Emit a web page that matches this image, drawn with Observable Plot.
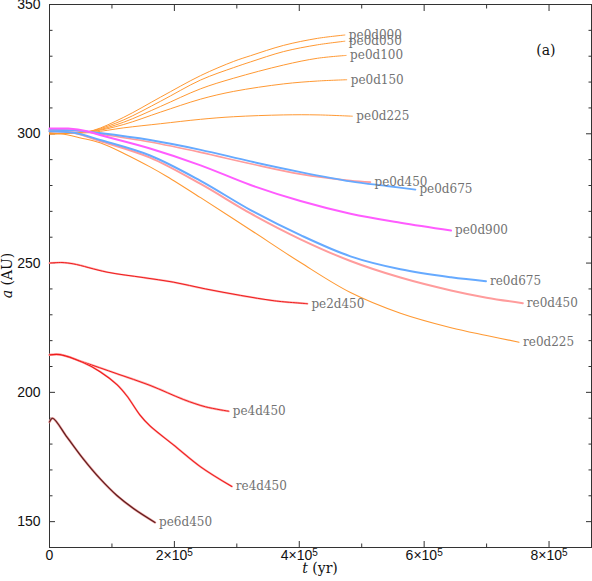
<!DOCTYPE html>
<html><head><meta charset="utf-8">
<script src="https://cdn.jsdelivr.net/npm/d3@7"></script>
<script src="https://cdn.jsdelivr.net/npm/@observablehq/plot@0.6"></script>
<style>body{margin:0;background:#fff}</style>
</head><body><div id="chart"></div>
<script>
// ---- data: [t (yr), a (AU)] ----
const pe0d000 = [[0,300],[40000,300.3],[70000,301.3],[119000,306.4],[178000,314.2],[242000,322.5],[295000,328.0],[322000,330.2],[375000,334.2],[429000,336.9],[473000,338.2]];
const pe0d050 = [[0,300],[40000,300.3],[70000,301.2],[119000,305.4],[178000,312.6],[242000,320.8],[295000,325.6],[322000,327.8],[375000,331.8],[429000,334.4],[473000,335.8]];
const pe0d100 = [[0,300],[40000,300.3],[70000,301.0],[119000,304.5],[178000,310.6],[242000,317.4],[295000,321.5],[375000,326.6],[429000,329.2],[475000,330.3]];
const pe0d150 = [[0,300],[40000,300.3],[70000,300.9],[119000,303.6],[178000,308.4],[242000,313.4],[295000,316.4],[375000,319.3],[429000,320.4],[476000,320.9]];
const pe0d225 = [[0,300],[40000,300.2],[70000,300.6],[119000,302.3],[178000,303.9],[242000,305.6],[295000,306.6],[375000,307.3],[430000,307.3],[485000,306.8]];
const re0d225 = [[0,300.5],[28000,299.6],[50000,298.4],[81000,296.5],[120000,292.3],[161000,287.2],[188000,283.5],[242000,275.3],[322000,262.8],[402000,250.2],[482000,238.6],[562000,230.6],[643000,225.0],[700000,222.0],[752000,219.4]];
const pe0d450 = [[0,301.5],[40000,301.2],[80000,299.9],[161000,296.8],[242000,292.8],[322000,288.4],[402000,284.4],[482000,281.9],[514000,281.3]];
const pe0d675 = [[0,301.5],[40000,301.3],[80000,300.3],[161000,297.6],[242000,293.8],[322000,289.3],[402000,285.2],[482000,281.6],[540000,279.8],[586000,278.4]];
const pe0d900 = [[0,302],[30000,302],[60000,301],[81000,299.5],[161000,294.3],[242000,287.8],[322000,280.2],[402000,274.0],[482000,269.1],[562000,265.6],[643000,262.6]];
const re0d675 = [[0,301],[40000,300.4],[81000,297.6],[161000,291.6],[242000,281.8],[322000,270.5],[402000,260.8],[482000,252.6],[562000,247.6],[643000,244.5],[699000,243.0]];
const re0d450 = [[0,301],[40000,300.3],[81000,297.2],[161000,290.8],[242000,280.6],[322000,269.2],[402000,259.2],[482000,250.8],[562000,244.4],[643000,239.4],[700000,236.6],[758000,234.5]];
const pe2d450 = [[0,250],[20000,250.2],[38000,249.7],[92000,246.5],[150000,244.4],[199000,242.6],[250000,240.0],[306000,237.5],[360000,235.4],[413000,234.3]];
const pe4d450 = [[0,214.5],[17000,214.6],[54000,211.7],[108000,207.2],[161000,202.7],[215000,197.2],[250000,194.4],[287000,192.7]];
const re4d450 = [[0,214.5],[17000,214.6],[54000,211.5],[81000,208],[108000,203],[124000,198.6],[145000,191.2],[161000,187],[199000,179.6],[242000,171.2],[292000,163.6]];
const pe6d450 = [[0,188.5],[5000,190],[28000,182.7],[54000,174.3],[81000,166.6],[108000,160.1],[135000,155],[169000,149.7]];

const seriesNames = ["pe0d000","pe0d050","pe0d100","pe0d150","pe0d225","re0d225","re0d450","re0d675","pe0d450","pe0d675","pe0d900","pe2d450","pe4d450","re4d450","pe6d450"];
const seriesData = {pe0d000,pe0d050,pe0d100,pe0d150,pe0d225,re0d225,pe0d450,pe0d675,pe0d900,re0d675,re0d450,pe2d450,pe4d450,re4d450,pe6d450};

const yTickLabels = [150, 200, 250, 300, 350];
const xTickLabels = [0, 200000, 400000, 600000, 800000];
const xMinorTicks = [100000, 300000, 500000, 700000];
const panelLabel = "(a)";

// ---- styles ----
const ORANGE = "#ff9933", PINK = "#ff9c9c", BLUE = "#66aaff", MAGENTA = "#ff5cff", RED = "#ee1c1c", DARK = "#5c1a1a";
const styles = {
  pe0d000:{color:ORANGE,w:1}, pe0d050:{color:ORANGE,w:1}, pe0d100:{color:ORANGE,w:1},
  pe0d150:{color:ORANGE,w:1}, pe0d225:{color:ORANGE,w:1}, re0d225:{color:ORANGE,w:1.1},
  re0d450:{color:PINK,w:2}, re0d675:{color:BLUE,w:2}, pe0d450:{color:PINK,w:1.6},
  pe0d675:{color:BLUE,w:1.8}, pe0d900:{color:MAGENTA,w:2},
  pe2d450:{color:RED,w:1,under:"#ffaaaa",uw:2}, pe4d450:{color:RED,w:1,under:"#ffaaaa",uw:2.2},
  re4d450:{color:RED,w:1.1,under:"#ffaaaa",uw:2}, pe6d450:{color:DARK,w:1.1,under:"#e89a9a",uw:2.4}
};

const series = seriesNames.map(name => ({name, data: seriesData[name]}));
const marks = [];
for (const s of series) {
  const st = styles[s.name];
  if (st.under) marks.push(Plot.line(s.data, {x: d => d[0], y: d => d[1], stroke: st.under, strokeWidth: st.uw, curve: "catmull-rom"}));
  marks.push(Plot.line(s.data, {x: d => d[0], y: d => d[1], stroke: st.color, strokeWidth: st.w, curve: "catmull-rom"}));
}
marks.push(Plot.text(series, {
  x: s => s.data[s.data.length-1][0], y: s => s.data[s.data.length-1][1], text: s => s.name,
  dx: 4, textAnchor: "start", fill: "#727272", fontFamily: "'DejaVu Serif', serif", fontSize: 12
}));
marks.push(Plot.text([panelLabel], {frameAnchor: "top-right", text: d => d, dx: -36, dy: 41, textAnchor: "end", fill: "#111", fontFamily: "'DejaVu Serif', serif", fontSize: 14}));

const yMinor = d3.range(140, 351, 10).filter(v => !yTickLabels.includes(v));
const AX = "#333";
const axes = [
  Plot.frame({stroke: AX}),
  Plot.axisY({anchor: "left", ticks: yTickLabels, tickSize: 6, dx: 6, fill: "none", stroke: AX, label: null}),
  Plot.axisY({anchor: "left", ticks: yMinor, tickSize: 3.5, dx: 3.5, fill: "none", stroke: AX, label: null}),
  Plot.axisY({anchor: "right", ticks: yTickLabels, tickSize: 6, dx: -6, fill: "none", stroke: AX, label: null}),
  Plot.axisY({anchor: "right", ticks: yMinor, tickSize: 3.5, dx: -3.5, fill: "none", stroke: AX, label: null}),
  Plot.axisY({anchor: "left", ticks: yTickLabels, tickSize: 0, tickPadding: 9, tickFormat: d => String(d), fill: "#111", label: null}),
  Plot.axisX({anchor: "bottom", ticks: xTickLabels, tickSize: 6, dy: -6, fill: "none", stroke: AX, label: null}),
  Plot.axisX({anchor: "bottom", ticks: xMinorTicks, tickSize: 3.5, dy: -3.5, fill: "none", stroke: AX, label: null}),
  Plot.axisX({anchor: "top", ticks: xTickLabels, tickSize: 6, dy: 6, fill: "none", stroke: AX, label: null}),
  Plot.axisX({anchor: "top", ticks: xMinorTicks, tickSize: 3.5, dy: 3.5, fill: "none", stroke: AX, label: null}),
  Plot.axisX({anchor: "bottom", ticks: xTickLabels, tickSize: 0, tickPadding: 3,
    tickFormat: d => d === 0 ? "0" : `${d/1e5}×10^5`, fill: "#111", label: null})
];

const plot = Plot.plot({
  width: 592, height: 581,
  marginTop: 4, marginRight: 1, marginBottom: 34, marginLeft: 49,
  x: {domain: [0, 868000]},
  y: {domain: [140, 350]},
  style: {fontFamily: "'Liberation Sans', Arial, sans-serif", fontSize: "14px", color: "#111", background: "#fff"},
  marks: [...axes, ...marks]
});
document.getElementById("chart").appendChild(plot);

// superscript exponents on x tick labels
const svg = d3.select(plot);
svg.selectAll("text").each(function() {
  const t = this.textContent;
  if (t.includes("^")) {
    const [base, exp] = t.split("^");
    const el = d3.select(this);
    el.text("");
    el.append("tspan").text(base);
    el.append("tspan").attr("dy", "-0.45em").style("font-size", "10px").text(exp);
  }
});

// axis titles with italic symbols
const xr = plot.scale("x").range, yr = plot.scale("y").range;
const xc = (xr[0] + xr[1]) / 2, yc = (yr[0] + yr[1]) / 2;
const xt = svg.append("text").attr("x", xc).attr("y", 573).attr("text-anchor", "middle")
  .style("font-family", "'DejaVu Serif', serif").style("font-size", "14px").attr("fill", "#111");
xt.append("tspan").style("font-style", "italic").text("t");
xt.append("tspan").text(" (yr)");
const yt = svg.append("text").attr("transform", `translate(12,${yc}) rotate(-90)`).attr("text-anchor", "middle")
  .style("font-family", "'DejaVu Serif', serif").style("font-size", "14px").attr("fill", "#111");
yt.append("tspan").style("font-style", "italic").text("a");
yt.append("tspan").text(" (AU)");
</script>
</body></html>
